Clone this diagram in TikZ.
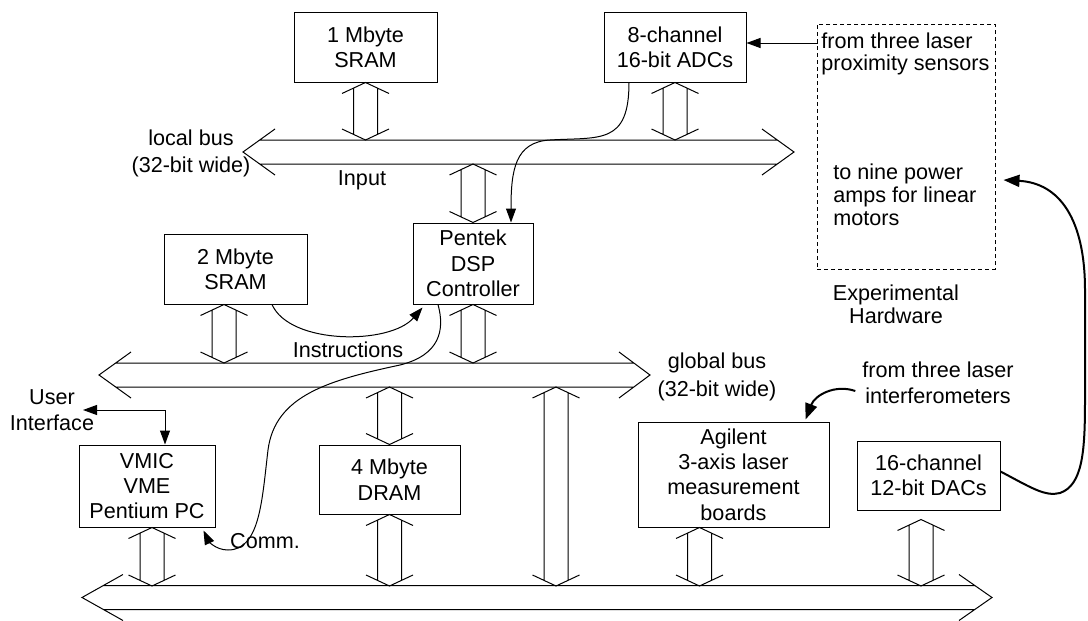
\documentclass[tikz,border=0pt]{standalone}
\usepackage{fontspec}
\setmainfont{Liberation Sans}
\usetikzlibrary{arrows.meta,calc}

\newcommand{\hbus}[4]{%
  \draw[busline] let \p1=(#1), \p2=(#2) in
    (\x1+#3,\y1+11.5pt) -- (\x1,\y1) -- (\x1+#3,\y1-11.5pt)
    (\x1+#3*0.52,\y1+6pt) -- (\x2-#4*0.52,\y1+6pt)
    (\x1+#3*0.52,\y1-6pt) -- (\x2-#4*0.52,\y1-6pt)
    (\x2-#4,\y1+11.5pt) -- (\x2,\y1) -- (\x2-#4,\y1-11.5pt);}
\newcommand{\vbus}[2]{%
  \draw[busline] let \p1=(#1), \p2=(#2) in
    (\x1-11.75pt,\y1-5.5pt) -- (\x1,\y1) -- (\x1+11.75pt,\y1-5.5pt)
    (\x1-6pt,\y1-2.8pt) -- (\x1-6pt,\y2+2.8pt)
    (\x1+6pt,\y1-2.8pt) -- (\x1+6pt,\y2+2.8pt)
    (\x1-11.75pt,\y2+5.5pt) -- (\x1,\y2) -- (\x1+11.75pt,\y2+5.5pt);}

\begin{document}
\begin{tikzpicture}[x=0.5pt,y=-0.5pt,
  font=\fontsize{10.8}{12.7}\selectfont,
  lsp/.style={font=\fontsize{10.8}{#1}\selectfont},
  blk/.style={draw,line width=0.5pt,inner sep=1pt,align=center},
  busline/.style={line width=0.5pt},
  arr/.style={line width=0.5pt,-{Triangle[length=7pt,width=5pt]}},
  dblarr/.style={line width=0.5pt,{Triangle[length=7pt,width=5pt]}-{Triangle[length=7pt,width=5pt]}},
  bigarr/.style={line width=1pt,-{Triangle[length=8pt,width=6pt]}}]
			\useasboundingbox (0,0) rectangle (1088,621);
			
			\node[blk,minimum width=71.5pt,minimum height=35pt] (m1) at (365.5,47) {1 Mbyte\\SRAM};
			\node[blk,minimum width=71pt,minimum height=35pt] (adc) at (675,47) {8-channel\\16-bit ADCs};
			\node[blk,minimum width=71.5pt,minimum height=35pt] (m2) at (235.5,269) {2 Mbyte\\SRAM};
			\node[blk,minimum width=60pt,minimum height=40.5pt] (dsp) at (473,263.5) {Pentek\\DSP\\Controller};
			\node[blk,minimum width=68pt,minimum height=41pt] (pc) at (147,486) {VMIC\\VME\\Pentium PC};
			\node[blk,minimum width=70.5pt,minimum height=34.5pt] (dram) at (389.5,479.5) {4 Mbyte\\DRAM};
			\node[blk,minimum width=95.5pt,minimum height=52.5pt] (agil) at (733.5,474.5) {Agilent\\3-axis laser\\measurement\\boards};
			\node[blk,minimum width=71.5pt,minimum height=34.5pt] (dac) at (928.5,475.5) {16-channel\\12-bit DACs};
			\node[draw,line width=0.5pt,dash pattern=on 2pt off 1.5pt,minimum width=89pt,minimum height=122.5pt] (hw) at (906,146.5) {};
			
			\node[align=left,anchor=west,inner sep=1pt,lsp=11.2pt] (prox) at (819,54) {from three laser\\proximity sensors};
			\node[align=left,anchor=west,inner sep=1pt,lsp=11.5pt] (amps) at (831,195) {to nine power\\amps for linear\\motors};
			\node[align=center,lsp=11.5pt] (hwlbl) at (896,304.5) {Experimental\\Hardware};
			\node[align=center,lsp=13.5pt] (lblbl) at (191,153.5) {local bus\\(32-bit wide)};
			\node (inlbl) at (362,180) {Input};
			\node (inslbl) at (348,350) {Instructions};
			\node[align=center,lsp=14pt] (gblbl) at (717,377) {global bus\\(32-bit wide)};
			\node[align=center,lsp=13pt] (uilbl) at (52,410) {User\\Interface};
			\node (commlbl) at (265,541) {Comm.};
			\node[align=center,lsp=13pt] (ifm) at (938,383) {from three laser\\interferometers};
			
			\coordinate (lbL) at (243,152);
			\coordinate (lbR) at (794,152);
			\coordinate (gbL) at (99,375);
			\coordinate (gbR) at (650,375);
			\coordinate (bbL) at (82,597.5);
			\coordinate (bbR) at (992,597.5);
			\coordinate (lbT) at (0,140);
			\coordinate (lbB) at (0,164);
			\coordinate (gbT) at (0,363);
			\coordinate (gbB) at (0,387);
			\coordinate (bbT) at (0,586);
			\hbus{lbL}{lbR}{16pt}{16pt}
			\hbus{gbL}{gbR}{16pt}{15.5pt}
			\hbus{bbL}{bbR}{20.5pt}{16.5pt}
			
			\coordinate (m2tap) at ([xshift=-5.75pt]m2.south);
			\coordinate (pctap) at ([xshift=2.5pt]pc.south);
			\coordinate (agtap) at ([xshift=-17pt]agil.south);
			\coordinate (dactap) at ([xshift=-3.75pt,yshift=-4.5pt]dac.south);
			\coordinate (gtap) at (556,387);
			\vbus{m1.south}{m1.south |- lbT}
			\vbus{adc.south}{adc.south |- lbT}
			\vbus{dsp.north |- lbB}{dsp.north}
			\vbus{m2tap}{m2tap |- gbT}
			\vbus{dsp.south}{dsp.south |- gbT}
			\vbus{dram.north |- gbB}{dram.north}
			\vbus{gtap}{gtap |- bbT}
			\vbus{pctap}{pctap |- bbT}
			\vbus{dram.south}{dram.south |- bbT}
			\vbus{agtap}{agtap |- bbT}
			\vbus{dactap}{dactap |- bbT}
			
			\coordinate (sens) at (818,43);
			\draw[arr] (sens) -- (sens -| adc.east);
			\coordinate (ui) at (83,410);
			\draw[dblarr] (ui) -| ([xshift=9pt]pc.north);
			
			\draw[arr] ([xshift=-23pt]adc.south) .. controls (629,145) and (600,137) .. (550,140) .. controls (515,142) and (511,170) .. ([xshift=19pt]dsp.north);
			\draw[arr] ([xshift=18.25pt]m2.south) .. controls (290,345) and (390,345) .. ([xshift=5pt,yshift=-1.5pt]dsp.south west);
			\draw[arr] ([xshift=-17.5pt]dsp.south) .. controls (445,330) and (440,355) .. (400,365) .. controls (330,380) and (275,395) .. (268,450) .. controls (262,500) and (260,550) .. (228,550) .. controls (215,550) and (208,540) .. ([xshift=-6pt,yshift=-1.5pt]pc.south east);
			\draw[bigarr] ([yshift=2pt]dac.east) .. controls (1030,487) and (1045,497) .. (1060,493) .. controls (1083,485) and (1085,450) .. (1085,400) -- (1085,290) .. controls (1085,220) and (1060,183) .. ([xshift=4pt,yshift=-16.75pt]hw.east);
			\draw[bigarr] ([yshift=-4pt]ifm.west) .. controls (835,384) and (815,395) .. ([xshift=-12pt,yshift=1pt]agil.north east);
			\end{tikzpicture}
\end{document}
